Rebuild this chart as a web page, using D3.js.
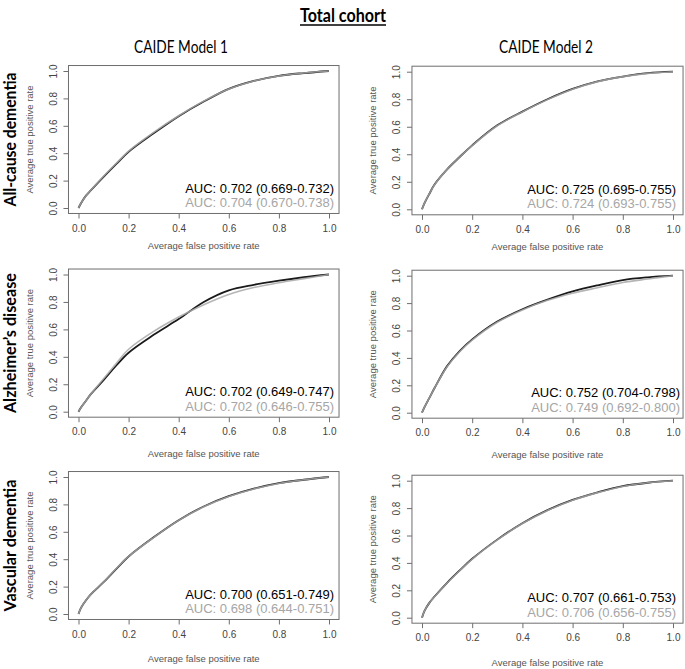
<!DOCTYPE html>
<html>
<head>
<meta charset="utf-8">
<script src="https://cdn.jsdelivr.net/npm/d3@7"></script>
<style>
  html, body { margin: 0; padding: 0; background: #fff; }
  svg { display: block; }
</style>
</head>
<body>
<svg id="chart" width="685" height="669"></svg>
<script>
// ---------------- DATA ----------------
const title = "Total cohort";
const modelNames = ["CAIDE Model 1", "CAIDE Model 2"];
const outcomeNames = ["All-cause dementia", "Alzheimer\u2019s disease", "Vascular dementia"];
const tickValues = [0, 0.2, 0.4, 0.6, 0.8, 1.0];
const xAxisTitle = "Average false positive rate";
const yAxisTitle = "Average true positive rate";

// shared false-positive-rate grid
const fpr = [0, 0.01, 0.03, 0.05, 0.1, 0.15, 0.2, 0.3, 0.4, 0.5, 0.6, 0.7, 0.8, 0.9, 1.0];

// All-cause dementia
const tprAllM1Black = [0, 0.035, 0.09, 0.13, 0.227, 0.32, 0.41, 0.545, 0.67, 0.777, 0.87, 0.928, 0.965, 0.985, 1];
const tprAllM1Gray  = [0, 0.035, 0.09, 0.132, 0.232, 0.325, 0.415, 0.552, 0.673, 0.78, 0.868, 0.927, 0.963, 0.985, 1];
const tprAllM2Black = [0, 0.045, 0.115, 0.18, 0.29, 0.38, 0.465, 0.61, 0.71, 0.80, 0.875, 0.93, 0.965, 0.99, 1];
const tprAllM2Gray  = [0, 0.045, 0.115, 0.178, 0.29, 0.38, 0.463, 0.607, 0.708, 0.797, 0.873, 0.928, 0.964, 0.988, 1];
// Alzheimer's disease
const tprAlzM1Black = [0, 0.03, 0.08, 0.13, 0.23, 0.335, 0.43, 0.56, 0.675, 0.80, 0.885, 0.925, 0.955, 0.98, 1];
const tprAlzM1Gray  = [0, 0.03, 0.08, 0.13, 0.24, 0.35, 0.455, 0.585, 0.69, 0.78, 0.855, 0.905, 0.94, 0.97, 1];
const tprAlzM2Black = [0, 0.04, 0.11, 0.18, 0.34, 0.45, 0.535, 0.665, 0.755, 0.825, 0.885, 0.93, 0.968, 0.988, 1];
const tprAlzM2Gray  = [0, 0.04, 0.11, 0.18, 0.335, 0.445, 0.53, 0.66, 0.75, 0.82, 0.872, 0.912, 0.95, 0.976, 1];
// Vascular dementia
const tprVasM1Black = [0, 0.045, 0.10, 0.145, 0.232, 0.328, 0.42, 0.56, 0.685, 0.785, 0.86, 0.915, 0.955, 0.98, 1];
const tprVasM1Gray  = [0, 0.045, 0.10, 0.145, 0.234, 0.33, 0.42, 0.558, 0.683, 0.783, 0.858, 0.913, 0.953, 0.98, 1];
const tprVasM2Black = [0, 0.05, 0.11, 0.155, 0.255, 0.345, 0.43, 0.57, 0.69, 0.785, 0.86, 0.915, 0.96, 0.985, 1];
const tprVasM2Gray  = [0, 0.05, 0.11, 0.153, 0.253, 0.343, 0.428, 0.568, 0.688, 0.783, 0.858, 0.913, 0.958, 0.985, 1];

const aucBlack = [
  ["AUC: 0.702 (0.669-0.732)", "AUC: 0.725 (0.695-0.755)"],
  ["AUC: 0.702 (0.649-0.747)", "AUC: 0.752 (0.704-0.798)"],
  ["AUC: 0.700 (0.651-0.749)", "AUC: 0.707 (0.661-0.753)"]
];
const aucGray = [
  ["AUC: 0.704 (0.670-0.738)", "AUC: 0.724 (0.693-0.755)"],
  ["AUC: 0.702 (0.646-0.755)", "AUC: 0.749 (0.692-0.800)"],
  ["AUC: 0.698 (0.644-0.751)", "AUC: 0.706 (0.656-0.755)"]
];

const tprBlack = [
  [tprAllM1Black, tprAllM2Black],
  [tprAlzM1Black, tprAlzM2Black],
  [tprVasM1Black, tprVasM2Black]
];
const tprGray = [
  [tprAllM1Gray, tprAllM2Gray],
  [tprAlzM1Gray, tprAlzM2Gray],
  [tprVasM1Gray, tprVasM2Gray]
];

// ---------------- LAYOUT ----------------
const colX = [[78.5, 329], [422, 673]];
const rowY = [
  [[208, 71], [209.3, 71.7]],
  [[411.7, 274.5], [412.7, 275.7]],
  [[614, 477], [617.7, 480.7]]
];
const aucRight = [[334, 676], [334, 680], [334, 676]];
const xTitleOffset = [41, 45, 48];

const svg = d3.select("#chart");
const FONT = "'Liberation Sans', Arial, Helvetica, sans-serif";
const BOLD = "Lato, 'Open Sans', sans-serif";

// Title
svg.append("text")
  .attr("x", 343).attr("y", 22)
  .attr("text-anchor", "middle")
  .attr("font-family", BOLD).attr("font-weight", 700)
  .attr("font-size", 18)
  .attr("textLength", 86).attr("lengthAdjust", "spacingAndGlyphs")
  .attr("fill", "#000")
  .text(title);
svg.append("line")
  .attr("x1", 300).attr("x2", 386).attr("y1", 25).attr("y2", 25)
  .attr("stroke", "#000").attr("stroke-width", 1.3);

// Column headers
const headerX = [181, 546];
modelNames.forEach((m, i) => {
  svg.append("text")
    .attr("x", headerX[i]).attr("y", 53)
    .attr("text-anchor", "middle")
    .attr("font-family", "Lato, 'Open Sans', sans-serif")
    .attr("font-size", 17)
    .attr("textLength", 94).attr("lengthAdjust", "spacingAndGlyphs")
    .attr("fill", "#000")
    .text(m);
});

// Row labels
const rowLabelLen = [134, 140, 132];
outcomeNames.forEach((o, r) => {
  const yc = (rowY[r][0][0] + rowY[r][0][1]) / 2;
  svg.append("text")
    .attr("transform", `translate(16,${yc}) rotate(-90)`)
    .attr("text-anchor", "middle")
    .attr("font-family", BOLD).attr("font-weight", 700)
    .attr("font-size", 17)
    .attr("textLength", rowLabelLen[r]).attr("lengthAdjust", "spacingAndGlyphs")
    .attr("fill", "#000")
    .text(o);
});

const line = d3.line().curve(d3.curveCatmullRom.alpha(0.5));

for (let r = 0; r < 3; r++) {
  for (let c = 0; c < 2; c++) {
    const xs = d3.scaleLinear().domain([0, 1]).range(colX[c]);
    const ys = d3.scaleLinear().domain([0, 1]).range(rowY[r][c]);
    const g = svg.append("g");
    const bx0 = xs(-0.04), bx1 = xs(1.04), by0 = ys(-0.04), by1 = ys(1.04);

    g.append("rect")
      .attr("x", bx0).attr("y", by1)
      .attr("width", bx1 - bx0).attr("height", by0 - by1)
      .attr("fill", "none").attr("stroke", "#6e6e6e").attr("stroke-width", 1);

    const xAxis = d3.axisBottom(xs).tickValues(tickValues)
      .tickFormat(d3.format(".1f")).tickSize(5).tickPadding(6);
    const gx = g.append("g").attr("transform", `translate(0,${by0})`).call(xAxis);
    gx.select(".domain").remove();
    gx.selectAll("line").attr("stroke", "#6e6e6e");
    gx.selectAll("text").attr("font-family", FONT).attr("font-size", 10).attr("fill", "#444");

    const yAxis = d3.axisLeft(ys).tickValues(tickValues)
      .tickFormat(d3.format(".1f")).tickSize(5).tickPadding(4);
    const gy = g.append("g").attr("transform", `translate(${bx0},0)`).call(yAxis);
    gy.select(".domain").remove();
    gy.selectAll("line").attr("stroke", "#6e6e6e");
    gy.selectAll("text")
      .attr("font-family", FONT).attr("font-size", 10).attr("fill", "#444")
      .attr("text-anchor", "middle").attr("x", null)
      .attr("transform", `translate(-15,0) rotate(-90)`)
      .attr("dy", "0.35em");

    g.append("text")
      .attr("x", (xs(0) + xs(1)) / 2).attr("y", ys(0) + xTitleOffset[r])
      .attr("text-anchor", "middle")
      .attr("font-family", FONT).attr("font-size", 9.5).attr("fill", "#555")
      .text(xAxisTitle);
    g.append("text")
      .attr("transform", `translate(${bx0 - 39},${(ys(0) + ys(1)) / 2}) rotate(-90)`)
      .attr("text-anchor", "middle").attr("dy", "0.35em")
      .attr("font-family", FONT).attr("font-size", 9.5).attr("fill", "#555")
      .text(yAxisTitle);

    const ptsB = fpr.map((f, i) => [xs(f), ys(tprBlack[r][c][i])]);
    const ptsG = fpr.map((f, i) => [xs(f), ys(tprGray[r][c][i])]);
    g.append("path").attr("d", line(ptsB))
      .attr("fill", "none").attr("stroke", "#1a1a1a").attr("stroke-width", 1.8);
    g.append("path").attr("d", line(ptsG))
      .attr("fill", "none").attr("stroke", "#a8a8a8").attr("stroke-width", 1.6)
      .attr("stroke-opacity", 0.85);

    g.append("text")
      .attr("x", aucRight[r][c]).attr("y", ys(0) - 15.5)
      .attr("text-anchor", "end")
      .attr("font-family", FONT).attr("font-size", 13).attr("fill", "#000")
      .text(aucBlack[r][c]);
    g.append("text")
      .attr("x", aucRight[r][c]).attr("y", ys(0) - 1)
      .attr("text-anchor", "end")
      .attr("font-family", FONT).attr("font-size", 13).attr("fill", "#a6a6a6")
      .text(aucGray[r][c]);
  }
}
</script>
</body>
</html>
